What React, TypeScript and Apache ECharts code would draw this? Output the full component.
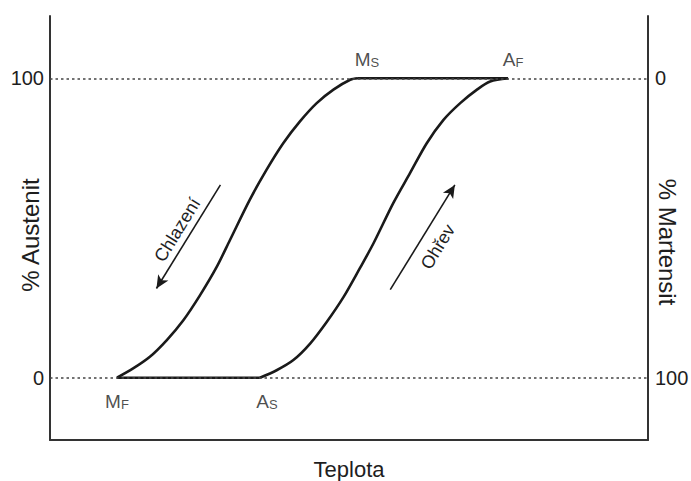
import React, { useEffect, useRef } from "react";
import * as echarts from "echarts";

// Cooling branch (austenite -> martensite)
const coolingX = [11.2, 13.9, 16.7, 19.5, 22.3, 25.1, 27.9, 30.1, 33.4, 36.2, 39.0, 41.8, 44.6, 47.4, 50.2, 51.5];
const coolingY = [0, 3.1, 7.0, 12.5, 19.2, 27.6, 37.1, 46.0, 59.4, 69.4, 78.3, 85.6, 91.7, 96.2, 99.5, 100];
// Heating branch (martensite -> austenite)
const heatingX = [35.1, 37.9, 40.7, 43.5, 46.3, 49.1, 51.8, 54.1, 57.4, 60.2, 63.0, 65.8, 68.6, 71.4, 73.6, 76.6];
const heatingY = [0, 2.5, 5.9, 11.4, 18.7, 27.0, 36.5, 44.9, 58.3, 68.3, 78.3, 86.1, 91.7, 96.2, 98.9, 100];

const austeniteTicks = [0, 100];
const martensiteTicks = [0, 100];
const guideLevels = [0, 100];

// Direction arrows [from, to] in data coordinates
const coolingArrow = [[28.5, 64.4], [17.8, 29.8]];
const heatingArrow = [[56.9, 29.4], [67.7, 64.4]];
const coolingText = "Chlazení";
const heatingText = "Ohřev";

const xName = "Teplota";
const yLeftName = "% Austenit";
const yRightName = "% Martensit";

// Transformation temperatures: letter + small-capital index
const phaseLetters = ["M", "A", "M", "A"];
const phaseIndex = ["S", "F", "F", "S"];

const FONT = "'Liberation Sans', Arial, Helvetica, sans-serif";
const INK = "#1a1a1a";
const TEXT = "#1e1e1e";

export default function App() {
  const ref = useRef<HTMLDivElement>(null);

  useEffect(() => {
    if (!ref.current) return;
    const chart = echarts.init(ref.current, undefined, { renderer: "svg" });

    const cooling = coolingX.map((x, i) => [x, coolingY[i]]);
    const heating = heatingX.map((x, i) => [x, heatingY[i]]);
    const ms = cooling[cooling.length - 1];
    const mf = cooling[0];
    const af = heating[heating.length - 1];
    const as = heating[0];
    const phasePoints = [ms, af, mf, as];
    const labelCfg = [
      { position: "top", distance: 9, offset: [9, 0] },
      { position: "top", distance: 9, offset: [5, 0] },
      { position: "bottom", distance: 13, offset: [0, 0] },
      { position: "bottom", distance: 13, offset: [7, 0] },
    ];

    const curveStyle = { color: INK, width: 2.6 };

    chart.setOption({
      animation: false,
      textStyle: { fontFamily: FONT },
      grid: { left: 50, right: 43, top: 16, bottom: 41, outerBoundsMode: "none" },
      xAxis: {
        type: "value",
        min: 0,
        max: 100,
        name: xName,
        nameLocation: "middle",
        nameGap: 18,
        nameMoveOverlap: false,
        nameTextStyle: { fontSize: 22, color: TEXT, fontFamily: FONT },
        axisLine: { show: true, onZero: false, lineStyle: { color: "#333", width: 2 } },
        axisTick: { show: false },
        axisLabel: { show: false },
        splitLine: { show: false },
      },
      yAxis: [
        {
          type: "value",
          position: "left",
          min: -20.8,
          max: 120.8,
          name: yLeftName,
          nameLocation: "middle",
          nameRotate: 90,
          nameGap: 8,
          nameMoveOverlap: false,
          nameTextStyle: { fontSize: 24, color: TEXT, fontFamily: FONT, padding: [0, 14, 0, 0] },
          axisLine: { show: true, onZero: false, lineStyle: { color: "#333", width: 2 } },
          axisTick: { show: false },
          axisLabel: {
            customValues: austeniteTicks,
            fontSize: 20,
            color: TEXT,
            margin: 6,
            fontFamily: FONT,
          },
          splitLine: { show: false },
        },
        {
          type: "value",
          position: "right",
          inverse: true,
          min: -20.8,
          max: 120.8,
          name: yRightName,
          nameLocation: "middle",
          nameRotate: -90,
          nameGap: 7,
          nameMoveOverlap: false,
          nameTextStyle: { fontSize: 24, color: TEXT, fontFamily: FONT, padding: [0, 0, 0, 28] },
          axisLine: { show: true, onZero: false, lineStyle: { color: "#333", width: 2 } },
          axisTick: { show: false },
          axisLabel: {
            customValues: martensiteTicks,
            fontSize: 20,
            color: TEXT,
            margin: 7,
            fontFamily: FONT,
          },
          splitLine: { show: false },
        },
      ],
      series: [
        {
          name: "guides",
          type: "line",
          data: [],
          z: 1,
          markLine: {
            silent: true,
            symbol: "none",
            label: { show: false },
            lineStyle: { color: "#444", width: 1.5, type: [2.5, 3] },
            data: guideLevels.map((v) => ({ yAxis: v })),
          },
        },
        {
          name: coolingText,
          type: "line",
          data: cooling,
          smooth: 0.3,
          showSymbol: false,
          symbol: "none",
          lineStyle: curveStyle,
          z: 3,
        },
        {
          name: heatingText,
          type: "line",
          data: heating,
          smooth: 0.3,
          showSymbol: false,
          symbol: "none",
          lineStyle: curveStyle,
          z: 3,
        },
        {
          name: "top",
          type: "line",
          data: [ms, af],
          symbol: "none",
          lineStyle: curveStyle,
          z: 3,
        },
        {
          name: "bottom",
          type: "line",
          data: [mf, as],
          symbol: "none",
          lineStyle: curveStyle,
          z: 3,
        },
        {
          name: "arrows",
          type: "line",
          data: [],
          z: 4,
          markLine: {
            silent: true,
            symbol: ["none", "arrow"],
            symbolSize: [9, 13],
            lineStyle: { color: INK, width: 1.6, type: "solid" },
            data: [
              [
                {
                  coord: coolingArrow[0],
                  label: {
                    show: true,
                    formatter: coolingText,
                    position: "insideMiddleTop",
                    distance: 4,
                    fontSize: 18,
                    color: TEXT,
                    fontFamily: FONT,
                  },
                },
                { coord: coolingArrow[1] },
              ],
              [
                {
                  coord: heatingArrow[0],
                  label: {
                    show: true,
                    formatter: heatingText,
                    position: "insideMiddleBottom",
                    distance: 9,
                    fontSize: 18,
                    color: TEXT,
                    fontFamily: FONT,
                  },
                },
                { coord: heatingArrow[1] },
              ],
            ],
          },
        },
        {
          name: "phases",
          type: "scatter",
          symbolSize: 0,
          silent: true,
          z: 5,
          data: phasePoints.map((p, i) => ({
            value: p,
            label: {
              show: true,
              formatter: `{m|${phaseLetters[i]}}{s|${phaseIndex[i]}}`,
              position: labelCfg[i].position,
              distance: labelCfg[i].distance,
              offset: labelCfg[i].offset,
              rich: {
                m: { fontSize: 19, color: TEXT, fontFamily: FONT, verticalAlign: "bottom", lineHeight: 20 },
                s: { fontSize: 13, color: TEXT, fontFamily: FONT, verticalAlign: "bottom", lineHeight: 20 },
              },
            },
          })),
        },
      ],
    });

    return () => chart.dispose();
  }, []);

  return (
    <div
      ref={ref}
      style={{ position: "absolute", left: 0, top: 0, width: 691, height: 481, background: "#fff" }}
    />
  );
}
